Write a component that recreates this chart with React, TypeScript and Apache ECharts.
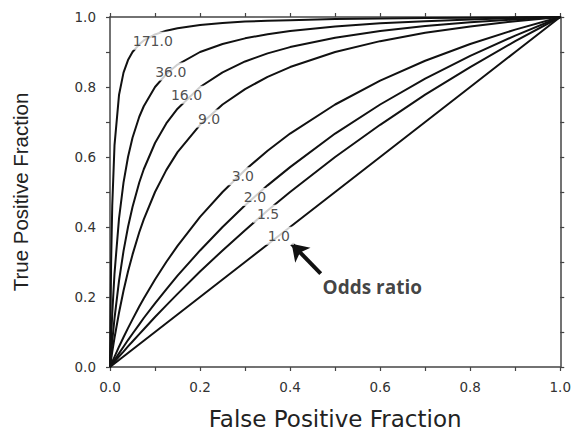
import React, { useEffect, useRef } from "react";
import * as echarts from "echarts";

// False positive fraction sample points (x)
const fpr = [0, 0.0025, 0.005, 0.01, 0.02, 0.03, 0.04, 0.05, 0.065, 0.075, 0.1, 0.125, 0.15, 0.2, 0.25, 0.3, 0.35, 0.4, 0.5, 0.6, 0.7, 0.8, 0.9, 1.0];

// True positive fraction for each odds-ratio curve
const tpr171 = [0, 0.300, 0.462, 0.633, 0.777, 0.841, 0.877, 0.900, 0.922, 0.933, 0.950, 0.961, 0.968, 0.977, 0.983, 0.987, 0.989, 0.991, 0.994, 0.996, 0.997, 0.998, 0.999, 1];
const tpr36 = [0, 0.083, 0.153, 0.267, 0.424, 0.527, 0.600, 0.655, 0.715, 0.745, 0.800, 0.837, 0.864, 0.900, 0.923, 0.939, 0.951, 0.960, 0.973, 0.982, 0.988, 0.993, 0.997, 1];
const tpr16 = [0, 0.039, 0.074, 0.139, 0.246, 0.331, 0.400, 0.457, 0.527, 0.565, 0.640, 0.696, 0.738, 0.800, 0.842, 0.873, 0.896, 0.914, 0.941, 0.960, 0.974, 0.985, 0.993, 1];
const tpr9 = [0, 0.022, 0.043, 0.083, 0.155, 0.218, 0.273, 0.321, 0.385, 0.422, 0.500, 0.5625, 0.614, 0.692, 0.750, 0.794, 0.829, 0.857, 0.900, 0.931, 0.955, 0.973, 0.988, 1];
const tpr3 = [0, 0.0075, 0.015, 0.029, 0.058, 0.085, 0.111, 0.136, 0.173, 0.196, 0.250, 0.300, 0.346, 0.429, 0.500, 0.563, 0.618, 0.667, 0.750, 0.818, 0.875, 0.923, 0.964, 1];
const tpr2 = [0, 0.005, 0.010, 0.020, 0.039, 0.058, 0.077, 0.095, 0.122, 0.140, 0.182, 0.222, 0.261, 0.333, 0.400, 0.462, 0.519, 0.571, 0.667, 0.750, 0.824, 0.889, 0.947, 1];
const tpr15 = [0, 0.004, 0.007, 0.015, 0.030, 0.044, 0.059, 0.073, 0.094, 0.108, 0.143, 0.176, 0.209, 0.273, 0.333, 0.391, 0.447, 0.500, 0.600, 0.692, 0.778, 0.857, 0.931, 1];
const tpr1 = [0, 0.0025, 0.005, 0.01, 0.02, 0.03, 0.04, 0.05, 0.065, 0.075, 0.1, 0.125, 0.15, 0.2, 0.25, 0.3, 0.35, 0.4, 0.5, 0.6, 0.7, 0.8, 0.9, 1.0];

const curveNames = ["171.0", "36.0", "16.0", "9.0", "3.0", "2.0", "1.5", "1.0"];
const curveTpr = [tpr171, tpr36, tpr16, tpr9, tpr3, tpr2, tpr15, tpr1];

// Curve label positions (x, y) in data units
const labelX = [0.095, 0.135, 0.17, 0.22, 0.295, 0.322, 0.351, 0.375];
const labelY = [0.932, 0.844, 0.778, 0.71, 0.545, 0.486, 0.438, 0.375];

// Annotation
const annotationText = "Odds ratio";
const annotationPos = [0.472, 0.23];
const arrowFrom = [0.468, 0.267];
const arrowTo = [0.4035, 0.352];

const xTitle = "False Positive Fraction";
const yTitle = "True Positive Fraction";

export default function App() {
  const ref = useRef<HTMLDivElement>(null);

  useEffect(() => {
    if (!ref.current) return;
    const chart = echarts.init(ref.current, null, { renderer: "svg" });

    const axisColor = "#444";
    const axisBase: any = {
      type: "value",
      min: 0,
      max: 1,
      interval: 0.2,
      axisLine: { show: true, onZero: false, lineStyle: { color: axisColor, width: 1.5 } },
      axisTick: { show: true, inside: false, length: 4, lineStyle: { color: axisColor, width: 1.2 } },
      minorTick: { show: true, splitNumber: 2, length: 4, lineStyle: { color: axisColor, width: 1.2 } },
      splitLine: { show: false },
      minorSplitLine: { show: false },
    };

    const tickLabel = {
      formatter: (v: number) => v.toFixed(1),
      fontFamily: "DejaVu Sans",
      fontSize: 13.5,
      color: "#333",
    };

    const lineSeries = curveTpr.map((tpr, i) => ({
      type: "line",
      name: curveNames[i],
      xAxisIndex: 0,
      yAxisIndex: 0,
      data: fpr.map((x, j) => [x, tpr[j]]),
      showSymbol: false,
      symbol: "none",
      smooth: false,
      lineStyle: { color: "#111", width: 2, join: "round" },
      silent: true,
      z: 2,
    }));

    const option: any = {
      animation: false,
      backgroundColor: "#fff",
      grid: { left: 110, right: 13, top: 17, bottom: 66 },
      xAxis: [
        {
          ...axisBase,
          position: "bottom",
          axisLabel: { ...tickLabel, margin: 13 },
          name: xTitle,
          nameLocation: "middle",
          nameGap: 40,
          nameTextStyle: { fontFamily: "DejaVu Sans", fontSize: 23, color: "#222" },
        },
        { ...axisBase, position: "top", axisLabel: { show: false } },
      ],
      yAxis: [
        {
          ...axisBase,
          position: "left",
          axisLabel: { ...tickLabel, margin: 14 },
          name: yTitle,
          nameLocation: "middle",
          nameGap: 79,
          nameTextStyle: { fontFamily: "Liberation Sans", fontSize: 20.5, color: "#222" },
        },
        { ...axisBase, position: "right", axisLabel: { show: false } },
      ],
      series: [
        ...lineSeries,
        {
          type: "scatter",
          name: "labels",
          symbolSize: 0,
          silent: true,
          z: 5,
          data: curveNames.map((n, i) => ({ name: n, value: [labelX[i], labelY[i]] })),
          label: {
            show: true,
            position: "inside",
            formatter: "{b}",
            fontFamily: "DejaVu Sans",
            fontSize: 14,
            color: "#222",
            backgroundColor: "#fff",
            padding: [2, 4],
          },
        },
        {
          type: "scatter",
          name: "annotation",
          symbolSize: 0,
          silent: true,
          z: 6,
          data: [{ name: annotationText, value: annotationPos }],
          label: {
            show: true,
            position: "right",
            distance: 0,
            formatter: "{b}",
            fontFamily: "Open Sans",
            fontWeight: "bold",
            fontSize: 19,
            color: "#111",
          },
          markLine: {
            silent: true,
            symbol: ["none", "arrow"],
            symbolSize: 16,
            label: { show: false },
            lineStyle: { color: "#111", width: 4, type: "solid" },
            data: [[{ coord: arrowFrom }, { coord: arrowTo }]],
          },
        },
      ],
    };

    chart.setOption(option);
    return () => chart.dispose();
  }, []);

  return (
    <div
      ref={ref}
      style={{ position: "fixed", left: 0, top: 0, width: 574, height: 435 }}
    />
  );
}
